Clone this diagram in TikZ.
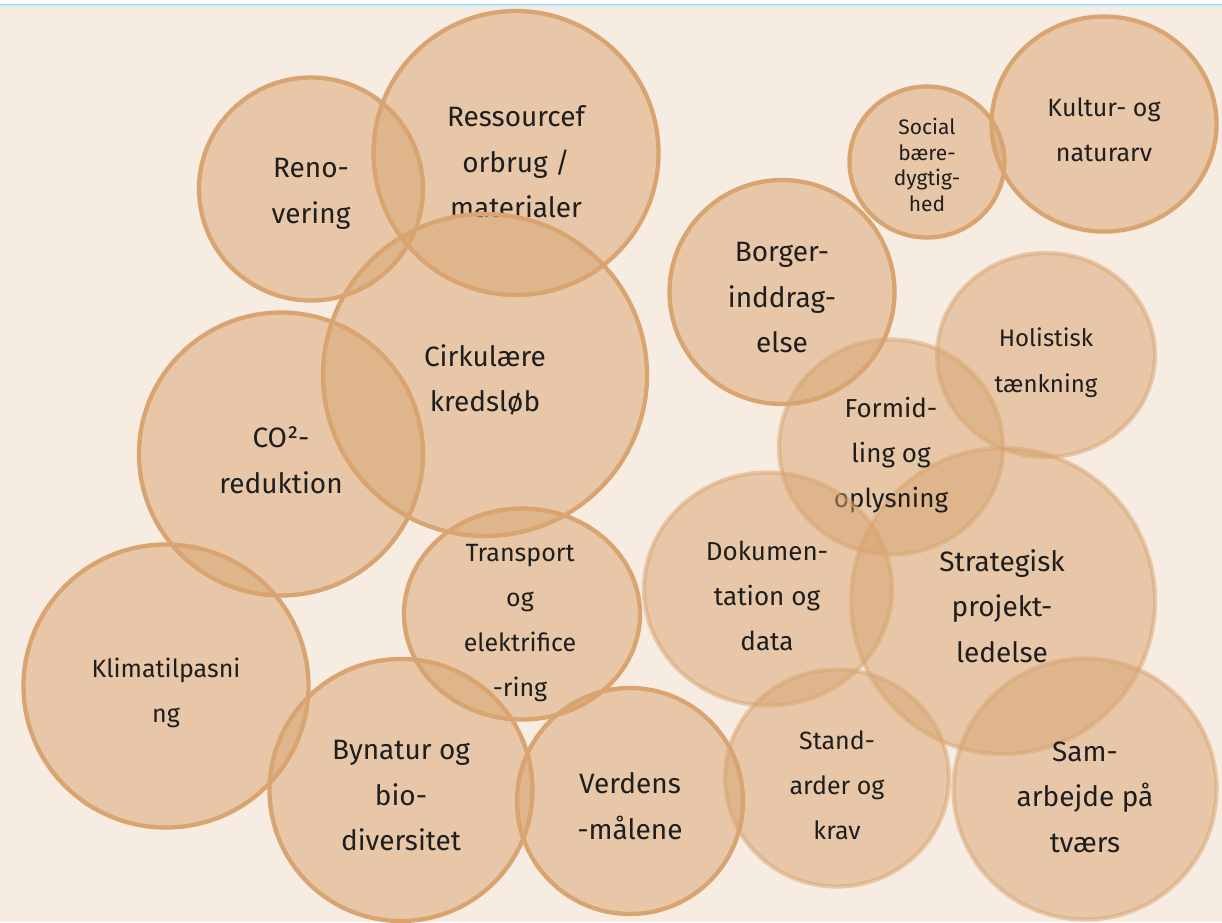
\documentclass[tikz,border=0pt]{standalone}
\usepackage{fontspec}
\setmainfont{Fira Sans}
\usetikzlibrary{shapes.geometric}
\definecolor{bgc}{HTML}{F6ECE2}
\definecolor{circ}{HTML}{D9A46F}
\definecolor{txtc}{HTML}{1E1E1E}
\definecolor{topline}{HTML}{9FD4EE}
\definecolor{toplight}{HTML}{D2ECF6}
\newcommand\fs[2]{\fontsize{#1}{#2}\selectfont}
\tikzset{
  bubA/.style={ellipse, draw=circ, line width=4.3pt, fill=circ, fill opacity=0.5, inner sep=0pt, outer sep=0pt},
  bubB/.style={bubA, draw opacity=0.5},
  lbl/.style={align=center, text=txtc, inner sep=0pt},
  fbig/.style={font=\fs{28}{45.5}},
  fmid/.style={font=\fs{25}{45}},
  fdoc/.style={font=\fs{26}{45}},
  fhol/.style={font=\fs{24}{46}},
  fsoc/.style={font=\fs{21}{25.7}},
}
\begin{document}
\begin{tikzpicture}[x=1pt,y=-1pt]
\useasboundingbox (0,0) rectangle (1222,922);
\fill[white] (0,0) rectangle (1222,922);
\fill[bgc] (0,6) rectangle (1222,922);
\draw[toplight, line width=1.6pt] (0,6) -- (1222,6);
\draw[topline, line width=1.4pt] (0,4.6) -- (1222,4.6);
\clip (0,0) rectangle (1222,922);
% group A
\node[bubA, minimum width=224pt, minimum height=223pt] (reno) at (311,189) {};
\node[lbl, fbig] (renoT) at (311,194) {Reno-\\vering};
\node[bubA, minimum width=285pt, minimum height=284pt] (ress) at (516,153) {};
\node[lbl, fbig] (ressT) at (516,162) {Ressourcef\\orbrug /\\materialer};
\node[bubA, minimum width=324pt, minimum height=322pt] (cirk) at (485,375) {};
\node[lbl, fbig] (cirkT) at (485,380) {Cirkulære\\kredsløb};
\node[bubA, minimum width=284pt, minimum height=283pt] (co2) at (281,454) {};
\node[lbl, fbig] (co2T) at (281,460) {CO²-\\reduktion};
\node[bubA, minimum width=285pt, minimum height=283pt] (klima) at (166,686) {};
\node[lbl, fmid] (klimaT) at (166,693) {Klimatilpasni\\ng};
\node[bubA, minimum width=263pt, minimum height=262pt] (bynat) at (401,790) {};
\node[lbl, fbig] (bynatT) at (401,796) {Bynatur og\\bio-\\diversitet};
\node[bubA, minimum width=236pt, minimum height=211pt] (trans) at (522,614) {};
\node[lbl, fmid] (transT) at (520,623) {Transport\\og\\elektrifice\\-ring};
\node[bubA, minimum width=226pt, minimum height=226pt] (verd) at (630,801) {};
\node[lbl, fbig] (verdT) at (630,806) {Verdens\\-målene};
\node[bubA, minimum width=225pt, minimum height=224pt] (borg) at (782,292) {};
\node[lbl, fbig] (borgT) at (782,298) {Borger-\\inddrag-\\else};
\node[bubA, minimum width=155pt, minimum height=151pt] (soc) at (927,162) {};
\node[lbl, fsoc] (socT) at (927,165) {Social\\bære-\\dygtig-\\hed};
\node[bubA, minimum width=225pt, minimum height=215pt] (kult) at (1104,124) {};
\node[lbl, fmid] (kultT) at (1104,130) {Kultur- og\\naturarv};
% group B
\node[bubB, minimum width=218pt, minimum height=204pt] (hol) at (1046,355) {};
\node[lbl, fhol] (holT) at (1046,363) {Holistisk\\tænkning};
\node[bubB, minimum width=304pt, minimum height=306pt] (strat) at (1003,601) {};
\node[lbl, fbig] (stratT) at (1002,606) {Strategisk\\projekt-\\ledelse};
\node[bubB, minimum width=224pt, minimum height=215pt] (form) at (891,447) {};
\node[lbl, fdoc] (formT) at (891,455) {Formid-\\ling og\\oplysning};
\node[bubB, minimum width=248pt, minimum height=233pt] (doku) at (768,589) {};
\node[lbl, fdoc] (dokuT) at (767,596) {Dokumen-\\tation og\\data};
\node[bubB, minimum width=224pt, minimum height=217pt] (stand) at (837,778) {};
\node[lbl, fmid] (standT) at (837,785) {Stand-\\arder og\\krav};
\node[bubB, minimum width=263pt, minimum height=261pt] (sam) at (1085,789) {};
\node[lbl, fbig] (samT) at (1085,797) {Sam-\\arbejde på\\tværs};
\end{tikzpicture}
\end{document}
